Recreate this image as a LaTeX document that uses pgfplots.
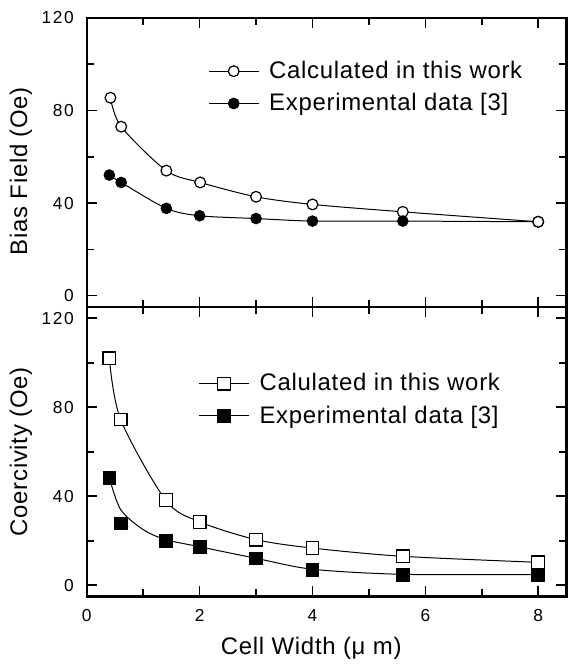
\documentclass[border=0pt]{standalone}
\usepackage{fontspec}
\setmainfont{Liberation Sans}[LetterSpace=3]
\newfontfamily\tickfont{Liberation Sans}[LetterSpace=9]
\usepackage{pgfplots}
\pgfplotsset{compat=1.18}
\pgfplotsset{
  panel/.style={
    scale only axis, width=240.5pt, height=145pt,
    xmin=0, xmax=8.5, xtick={0,2,4,6,8}, minor xtick={1,3,5,7},
    tick align=inside, xtick pos=both, ytick pos=both,
    major tick length=5pt, minor tick length=3.5pt,
    every tick/.style={black, line width=0.8pt},
    axis line style={line width=1.2pt},
    tick label style={font=\tickfont\fontsize{8.7}{10}\selectfont},
    xticklabel style={yshift=-3pt},
    yticklabel style={xshift=-3pt},
    /pgf/number format/assume math mode=true,
    label style={font=\fontsize{12}{14}\selectfont},
    legend style={draw=none, fill=none, font=\fontsize{12}{14}\selectfont,
      row sep=2pt, column sep=3pt, cells={anchor=west}},
    legend cell align=left,
  },
  legimg/.style={legend image code/.code={%
    \draw[sharp plot, line width=0.5pt, mark repeat=2, mark phase=2]
      plot coordinates {(0cm,0cm) (0.44cm,0cm) (0.88cm,0cm)};}},
  fitline/.style={black, line width=0.5pt, smooth, no marks, forget plot},
}
\pgfplotstableread{
x y
0.42 85.5
0.61 73
1.41 54
2.01 48.9
3.0 42.7
4.0 39.4
5.6 36.2
8.0 31.9
}\topcalc
\pgfplotstableread{
x y
0.40 52.1
0.61 48.9
1.41 37.7
2.0 34.5
3.0 33.3
4.0 32.2
5.6 32.2
8.0 31.9
}\topexp
\pgfplotstableread{
x y
8.0 31.9
}\topcalclast
\pgfplotstableread{
x y
0.40 102
0.60 74.5
1.40 38.2
2.0 28.5
3.0 20.5
4.0 16.7
5.6 13.0
8.0 10.3
}\botcalc
\pgfplotstableread{
x y
0.40 48.4
0.60 27.8
1.40 20.0
2.0 17.3
3.0 12.1
4.0 6.9
5.6 4.8
8.0 4.8
}\botexp
\pgfplotstableread{
x y
0.40 48.4
0.60 34.0
1.0 25.0
1.40 20.5
2.0 17.3
3.0 12.1
4.0 7.2
5.6 4.9
8.0 4.8
}\botexpfit
\begin{document}
\begin{tikzpicture}
\begin{axis}[panel, name=top,
  ymin=-5, ymax=120, ytick={0,40,80,120}, minor ytick={20,60,100},
  xticklabels={},
  ylabel={Bias Field (Oe)},
  ylabel style={at={(axis description cs:-0.137,0.47)}, anchor=center},
  legend style={at={(0.24,0.88)}, anchor=north west},
]
\addplot[fitline] table {\topexp};
\addplot[fitline] table {\topcalc};
\addplot[only marks, mark=*, mark size=2.7pt, mark options={fill=white, draw=black, line width=0.6pt}, legimg] table {\topcalc};
\addlegendentry{Calculated in this work}
\addplot[only marks, mark=*, mark size=2.7pt, mark options={fill=black, draw=black}, legimg] table {\topexp};
\addlegendentry{Experimental data [3]}
\addplot[only marks, mark=*, mark size=2.7pt, mark options={fill=white, draw=black, line width=0.6pt}, forget plot] table {\topcalclast};
\end{axis}
\begin{axis}[panel, name=bottom, at={(top.south west)}, anchor=north west,
  ymin=-5, ymax=125, ytick={0,40,80,120}, minor ytick={20,60,100},
  ylabel={Coercivity (Oe)},
  ylabel style={at={(axis description cs:-0.137,0.5)}, anchor=center},
  xlabel={Cell Width (μ m)},
  xlabel style={at={(axis description cs:0.468,0)}, anchor=center, yshift=-26pt},
  legend style={at={(0.22,0.8)}, anchor=north west},
]
\addplot[fitline] table {\botexpfit};
\addplot[fitline] table {\botcalc};
\addplot[only marks, mark=square*, mark size=3.2pt, mark options={fill=white, draw=black, line width=0.6pt}, legimg] table {\botcalc};
\addlegendentry{Calulated in this work}
\addplot[only marks, mark=square*, mark size=3.2pt, mark options={fill=black, draw=black}, legimg] table {\botexp};
\addlegendentry{Experimental data [3]}
\end{axis}
\path ([xshift=-43.5pt, yshift=9pt]top.north west) rectangle ([xshift=1pt, yshift=-33.5pt]bottom.south east);
\end{tikzpicture}
\end{document}
